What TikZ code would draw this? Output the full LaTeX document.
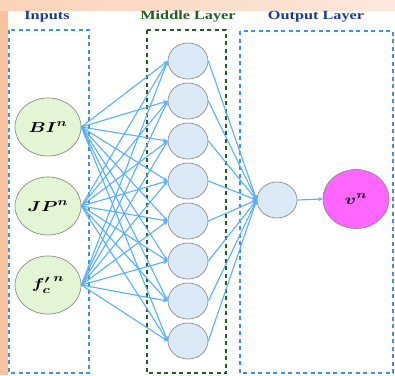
\documentclass[tikz,border=0pt]{standalone}
\usepackage{fontspec}
\setmainfont{Liberation Serif}
\usepackage{amsmath}
\usepackage{bm}
\usetikzlibrary{arrows.meta,shapes.geometric}
\definecolor{boxblue}{HTML}{3D8FEF}
\definecolor{boxgreen}{HTML}{1F5F1F}
\definecolor{titleblue}{HTML}{1F3A8C}
\definecolor{linkblue}{HTML}{55B0FF}
\definecolor{infill}{HTML}{E3F5D5}
\definecolor{midfill}{HTML}{DCEAF8}
\definecolor{outfill}{HTML}{FF66FF}
\definecolor{edgegray}{HTML}{8C8C8C}
\definecolor{leftstrip}{HTML}{F8C4A0}
\definecolor{topleft}{HTML}{FAD3B9}
\definecolor{topright}{HTML}{FCE8DC}
\tikzset{
  layerbox/.style={line width=1.2pt, dash pattern=on 4pt off 3.5pt},
  title/.style={font=\fontsize{12.5}{14}\selectfont\bfseries},
  innode/.style={ellipse, draw=edgegray, fill=infill, line width=0.7pt, minimum width=66pt, minimum height=58pt, inner sep=0pt},
  midnode/.style={ellipse, draw=edgegray, fill=midfill, line width=0.7pt, minimum width=40pt, minimum height=36pt, inner sep=0pt},
  vnode/.style={ellipse, draw=edgegray, fill=outfill, line width=0.7pt, minimum width=66pt, minimum height=59pt, inner sep=0pt},
  link/.style={draw=linkblue, line width=1.1pt, -{Stealth[length=4.5pt,width=4pt]}},
  lbl/.style={font=\fontsize{15}{17}\selectfont}
}
\newcommand{\wide}[1]{\scalebox{1.3}[1]{#1}}
\begin{document}
\begin{tikzpicture}[x=1pt,y=-1pt]
\useasboundingbox (0,0) rectangle (395,375);
% background
\fill[leftstrip] (0,0) rectangle (395,375);
\shade[left color=topleft, right color=topright] (0,0) rectangle (395,11);
\fill[leftstrip] (0,11) rectangle (8,375);
\fill[white] (8,11) rectangle (395,375);
% layer boxes
\draw[layerbox, boxblue] (9,30) rectangle (89,373);
\draw[layerbox, boxgreen] (147,30) rectangle (226,373);
\draw[layerbox, boxblue] (240,31) rectangle (393,373);
% titles
\node[title, text=titleblue] (tin) at (47,17) {\scalebox{1.3}[1]{Inputs}};
\node[title, text=boxgreen] (tmid) at (188,17) {\scalebox{1.3}[1]{Middle Layer}};
\node[title, text=titleblue] (tout) at (316,17) {\scalebox{1.3}[1]{Output Layer}};
% input nodes
\node[innode, lbl] (i1) at (48,127) {\wide{$\bm{BI^n}$}};
\node[innode, lbl] (i2) at (48,206) {\wide{$\bm{JP^n}$}};
\node[innode, lbl] (i3) at (48,285) {\wide{$\bm{{f'_c}^{\,n}}$}};
% middle nodes
\foreach \k in {1,...,8} {
  \node[midnode] (m\k) at (188,{61+40*(\k-1)}) {};
}
% output nodes
\node[midnode] (h) at (277,200) {};
\node[vnode, lbl] (v) at (356,199) {\wide{$\bm{v^n}$}};
% links
\foreach \i in {1,2,3} {
  \foreach \k in {1,...,8} {
    \draw[link] (i\i.east) -- (m\k.west);
  }
}
\foreach \k in {1,...,8} {
  \draw[link] (m\k.east) -- (h.west);
}
\draw[link] (h.east) -- (v.west);
\end{tikzpicture}
\end{document}
